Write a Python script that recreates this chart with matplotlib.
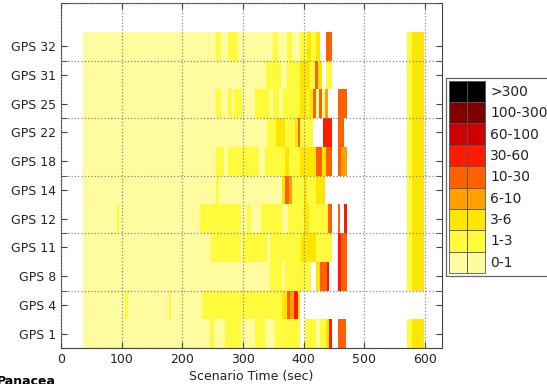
import numpy as np
import matplotlib.pyplot as plt
from matplotlib.patches import Patch
from matplotlib.legend_handler import HandlerTuple

# error bins (legend order top -> bottom) and colours
bin_labels = ['>300', '100-300', '60-100', '30-60', '10-30', '6-10', '3-6', '1-3', '0-1']
bin_colors = ['#000000', '#800000', '#cc0000', '#ff1a00', '#ff6000', '#ffa000', '#ffe600', '#fffa3c', '#fffca0']
# category index: 0 -> '0-1', 1 -> '1-3', 2 -> '3-6', ... 8 -> '>300'
cat_colors = bin_colors[::-1]

sats = ['GPS 1', 'GPS 4', 'GPS 8', 'GPS 11', 'GPS 12', 'GPS 14', 'GPS 18', 'GPS 22', 'GPS 25', 'GPS 31', 'GPS 32']

# (start sec, end sec, category) segments per satellite
gps32 = [(36, 255, 0), (255, 264, 1), (264, 276, 0), (276, 291, 1), (291, 349, 0), (349, 357, 1),
         (357, 372, 0), (372, 381, 1), (381, 394, 0), (394, 405, 1), (405, 412, 2), (412, 420, 1),
         (420, 427, 2), (437, 447, 4), (570, 578, 1), (578, 598, 2)]
gps31 = [(36, 338, 0), (338, 362, 1), (362, 372, 0), (372, 394, 1), (394, 410, 2), (410, 418, 1),
         (418, 424, 4), (424, 430, 2), (437, 447, 1), (570, 578, 1), (578, 598, 2)]
gps25 = [(36, 255, 0), (255, 264, 1), (264, 276, 0), (276, 282, 1), (282, 285, 0), (285, 298, 1),
         (298, 320, 0), (320, 345, 1), (345, 350, 0), (350, 360, 1), (360, 366, 0), (366, 394, 1),
         (394, 405, 2), (405, 409, 1), (409, 415, 2), (415, 420, 4), (420, 425, 0), (425, 430, 4),
         (430, 436, 0), (436, 440, 3), (457, 471, 4), (570, 578, 1), (578, 598, 2)]
gps22 = [(36, 340, 0), (340, 355, 1), (355, 370, 2), (370, 386, 1), (386, 390, 2), (390, 394, 4),
         (394, 415, 1), (432, 447, 5), (457, 466, 4), (570, 578, 1), (578, 598, 2)]
gps18 = [(36, 255, 0), (255, 268, 1), (268, 276, 0), (276, 327, 1), (327, 336, 0), (336, 370, 1),
         (370, 376, 2), (376, 394, 1), (394, 420, 2), (420, 430, 4), (430, 437, 2), (437, 447, 4),
         (457, 461, 4), (461, 471, 3), (570, 578, 1), (578, 598, 2)]
gps14 = [(36, 256, 0), (256, 260, 1), (260, 365, 0), (365, 370, 2), (370, 376, 4), (376, 380, 3),
         (380, 400, 1), (400, 405, 2), (405, 420, 1), (420, 435, 2), (570, 578, 1), (578, 598, 2)]
gps12 = [(36, 92, 0), (92, 96, 1), (96, 229, 0), (229, 296, 1), (296, 306, 0), (306, 313, 1),
         (313, 330, 0), (330, 364, 1), (364, 375, 0), (375, 400, 1), (400, 408, 2), (408, 440, 1),
         (440, 447, 4), (457, 460, 4), (466, 471, 5), (570, 578, 1), (578, 598, 2)]
gps11 = [(36, 248, 0), (248, 296, 1), (296, 300, 0), (300, 340, 1), (340, 345, 0), (345, 395, 1),
         (395, 420, 2), (420, 447, 1), (457, 461, 5), (461, 471, 4), (570, 578, 1), (578, 598, 2)]
gps8 = [(36, 345, 0), (345, 365, 1), (365, 369, 0), (369, 412, 1), (420, 427, 2), (427, 438, 4),
        (438, 441, 5), (457, 462, 5), (462, 471, 4), (570, 578, 1), (578, 598, 2)]
gps4 = [(36, 106, 0), (106, 110, 1), (110, 178, 0), (178, 182, 1), (182, 232, 0), (232, 365, 1),
        (365, 372, 2), (372, 378, 4), (378, 384, 3), (384, 390, 5), (390, 394, 2)]
gps1 = [(36, 246, 0), (246, 252, 1), (252, 270, 0), (270, 296, 1), (296, 320, 0), (320, 336, 1),
        (336, 352, 0), (352, 394, 1), (402, 420, 1), (420, 427, 0), (427, 437, 1), (437, 442, 2),
        (442, 447, 5), (457, 470, 4), (570, 578, 1), (578, 598, 2)]

rows = [gps1, gps4, gps8, gps11, gps12, gps14, gps18, gps22, gps25, gps31, gps32]

fig = plt.figure(figsize=(5.47, 3.84), dpi=100)
ax = fig.add_axes([0.1115, 0.0937, 0.6965, 0.898])

for i, segs in enumerate(rows):
    lefts = [s for s, e, c in segs]
    widths = [e - s for s, e, c in segs]
    cols = [cat_colors[c] for s, e, c in segs]
    ax.barh(i + 0.5, widths, left=lefts, height=1.0, color=cols, linewidth=0)

ax.set_xlim(0, 628)
ax.set_ylim(0, 12)
ax.set_yticks(np.arange(len(sats)) + 0.5)
ax.set_yticklabels(sats, fontsize=9, color='#222222')
ax.set_yticks(np.arange(0, 13, 2), minor=True)
ax.set_xticks(np.arange(0, 601, 100))
ax.tick_params(axis='x', labelsize=9, labelcolor='#222222')
ax.tick_params(which='both', direction='in', top=True, right=True, color='#444444')
ax.tick_params(which='major', length=4)
ax.tick_params(which='minor', length=4)
ax.grid(True, axis='x', which='major', linestyle=':', color='#888888', linewidth=0.9)
ax.grid(True, axis='y', which='minor', linestyle=':', color='#888888', linewidth=0.9)
ax.set_axisbelow(False)
for sp in ax.spines.values():
    sp.set_color('#444444')
ax.set_xlabel('Scenario Time (sec)', fontsize=9, color='#222222', labelpad=3)

handles = [(Patch(fc=c, ec='#555555', lw=0.6), Patch(fc=c, ec='#555555', lw=0.6)) for c in bin_colors]
leg = fig.legend(handles, bin_labels, loc='upper left', bbox_to_anchor=(0.816, 0.797),
                 handler_map={tuple: HandlerTuple(ndivide=None, pad=0)},
                 fontsize=10, handlelength=2.6, handleheight=1.99, labelspacing=0,
                 handletextpad=0.35, borderpad=0.2, borderaxespad=0,
                 fancybox=False, edgecolor='#666666', framealpha=1)
leg.get_frame().set_linewidth(0.9)
for t in leg.get_texts():
    t.set_color('#222222')

fig.text(-0.006, 0.024, 'Panacea', fontsize=9, fontweight='bold', va='top', ha='left')

plt.savefig('out.png', dpi=100)
